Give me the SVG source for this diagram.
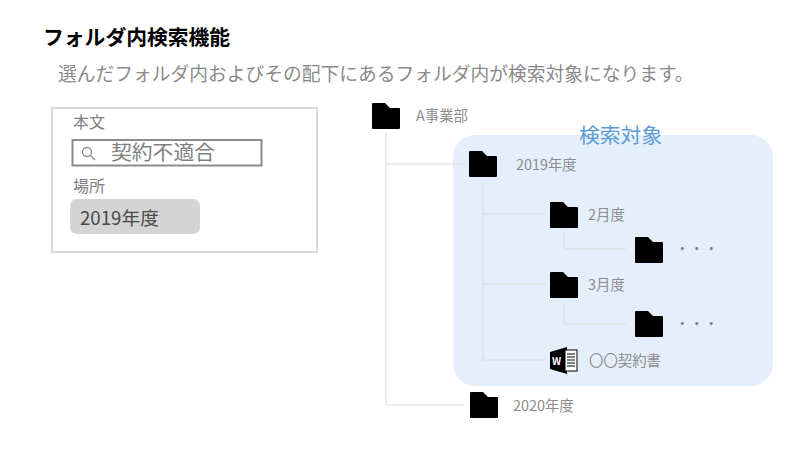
<svg xmlns="http://www.w3.org/2000/svg" xmlns:xlink="http://www.w3.org/1999/xlink" width="800" height="450" viewBox="0 0 800 450">
<style>
text{font-family:"Noto Sans CJK JP","Noto Sans",sans-serif;}
.lbl{font-size:14.400px;fill:#8c8c8c;}
.dots{font-size:14.500px;fill:#808080;}
.conn{fill:none;stroke:#dedede;stroke-width:1.200;}
</style>
<defs>
<path id="folder" d="M1 -1H13L18 4H27Q28 4 28 5V24Q28 25 27 25H1Q0 25 0 24V0Q0 -1 1 -1Z" fill="#000"/>
</defs>
<rect width="800" height="450" fill="#fff"/>
<text x="43" y="45" font-size="20.800" font-weight="700" fill="#000">フォルダ内検索機能</text>
<text x="58" y="81" font-size="18.750" fill="#8a8a8a">選んだフォルダ内およびその配下にあるフォルダ内が検索対象になります。</text>
<g id="search-panel">
<rect x="52" y="108" width="265" height="144" fill="#fff" stroke="#d9d9d9" stroke-width="2"/>
<text x="73" y="128" font-size="16" fill="#808080">本文</text>
<rect x="72.500" y="140" width="189" height="25.500" fill="#fff" stroke="#8c8c8c" stroke-width="2"/>
<circle cx="87" cy="152" r="4.500" fill="none" stroke="#8c8c8c" stroke-width="1.300"/>
<path d="M90.500 155.500L95 160" stroke="#8c8c8c" stroke-width="1.300"/>
<text x="111" y="160" font-size="20.800" fill="#808080">契約不適合</text>
<text x="73" y="192" font-size="16" fill="#808080">場所</text>
<rect x="70" y="199" width="130" height="35" rx="7" fill="#d4d4d4"/>
<text x="80" y="225" font-size="18.700" fill="#484848">2019年度</text>
</g>
<g id="scope">
<rect x="453" y="135" width="320" height="251" rx="22" fill="#e5effc"/>
<text x="579" y="143" font-size="20.800" fill="#5b9bd5">検索対象</text>
</g>
<g id="connectors">
<path class="conn" d="M386 132V405H465"/>
<path class="conn" d="M386 164H465"/>
<path class="conn" d="M483 182V360H546"/>
<path class="conn" d="M483 214H546"/>
<path class="conn" d="M483 284H546"/>
<path class="conn" d="M564 231V249H626"/>
<path class="conn" d="M564 303V324H626"/>
</g>
<g id="node-a"><use xlink:href="#folder" href="#folder" x="372" y="104"/><text class="lbl" x="416" y="121">A事業部</text></g>
<g id="node-2019"><use xlink:href="#folder" href="#folder" x="469" y="152"/><text class="lbl" x="516" y="170">2019年度</text></g>
<g id="node-feb"><use xlink:href="#folder" href="#folder" x="550" y="203"/><text class="lbl" x="588" y="220">2月度</text></g>
<g id="node-feb-child"><use xlink:href="#folder" href="#folder" x="635" y="238"/><text class="dots" x="675" y="254">・・・</text></g>
<g id="node-mar"><use xlink:href="#folder" href="#folder" x="550" y="273"/><text class="lbl" x="588" y="290">3月度</text></g>
<g id="node-mar-child"><use xlink:href="#folder" href="#folder" x="635" y="312"/><text class="dots" x="675" y="329">・・・</text></g>
<g id="node-doc">
<path d="M550 352L567 347V374L550 369Z" fill="#000"/>
<rect x="565" y="350" width="12" height="21" fill="#fff" stroke="#000" stroke-width="1"/>
<path d="M567 354H575M567 357H575M567 360H575M567 363H575M567 366H575" stroke="#000" stroke-width="1"/>
<text x="552" y="365" font-size="10" font-weight="700" fill="#fff" font-family="Liberation Sans">W</text>
<text class="lbl" x="589" y="366">〇〇契約書</text>
</g>
<g id="node-2020"><use xlink:href="#folder" href="#folder" x="470" y="393"/><text class="lbl" x="513" y="411">2020年度</text></g>
</svg>
